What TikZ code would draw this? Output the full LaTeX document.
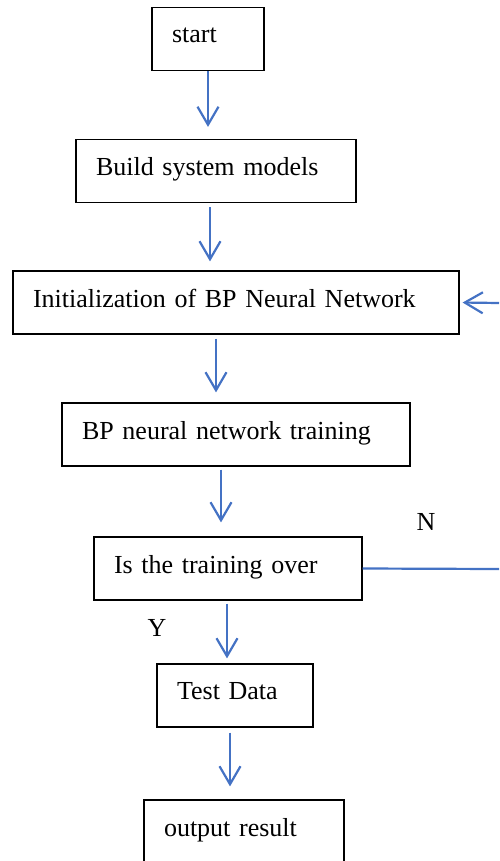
\documentclass[tikz,border=0pt]{standalone}
\usepackage{fontspec}
\setmainfont{Liberation Serif}
\usetikzlibrary{arrows.meta}
\definecolor{flowblue}{RGB}{68,114,196}
\tikzset{
  box/.style={draw, line width=1.2pt, minimum height=63pt, inner xsep=20pt, inner ysep=0pt, text depth=8.5pt, align=left, font=\fontsize{26}{30}\selectfont},
  flow/.style={draw=flowblue, line width=2.2pt, -{Straight Barb[length=18pt,width=21pt]}},
  loopline/.style={draw=flowblue, line width=2.2pt},
  lbl/.style={font=\fontsize{26}{30}\selectfont}
}
\begin{document}
\begin{tikzpicture}[x=1pt,y=-1pt]
\useasboundingbox (0,0) rectangle (499,861);
% flow chart boxes
\node[box, text width=72pt] (start) at (208,39) {start};
\node[box, text width=240pt] (build) at (216,171) {Build system models};
\node[box, text width=406pt] (init) at (236,302.5) {Initialization of BP Neural Network};
\node[box, text width=308pt] (train) at (236,434.5) {BP neural network training};
\node[box, text width=228pt] (over) at (228,568.5) {Is the training over};
\node[box, text width=116pt] (test) at (235,695.5) {Test Data};
\node[box, text width=160pt] (result) at (244,831.5) {output result};
% labels
\node[lbl] (no) at (426,522) {N};
\node[lbl] (yes) at (157,628) {Y};
% arrows
\draw[flow, shorten >=12pt] (start.south) -- (start.south |- build.north);
\draw[flow, shorten <=4pt, shorten >=9pt] ([xshift=-6pt]build.south) -- ([xshift=-6pt]build.south |- init.north);
\draw[flow, shorten <=4pt, shorten >=10pt] ([xshift=-20pt]init.south) -- ([xshift=-20pt]init.south |- train.north);
\draw[flow, shorten <=3pt, shorten >=14pt] ([xshift=-15pt]train.south) -- ([xshift=-15pt]train.south |- over.north);
\draw[flow, shorten <=3pt, shorten >=5pt] ([xshift=-1pt]over.south) -- ([xshift=-1pt]over.south |- test.north);
\draw[flow, shorten <=5pt, shorten >=13pt] ([xshift=-5pt]test.south) -- ([xshift=-5pt]test.south |- result.north);
% loop back
\coordinate (loopR) at (499,569);
\coordinate (loopT) at (499,303);
\draw[loopline] (over.east) -- (loopR);
\draw[flow, shorten >=3pt] (loopT) -- (init.east);
\end{tikzpicture}
\end{document}
